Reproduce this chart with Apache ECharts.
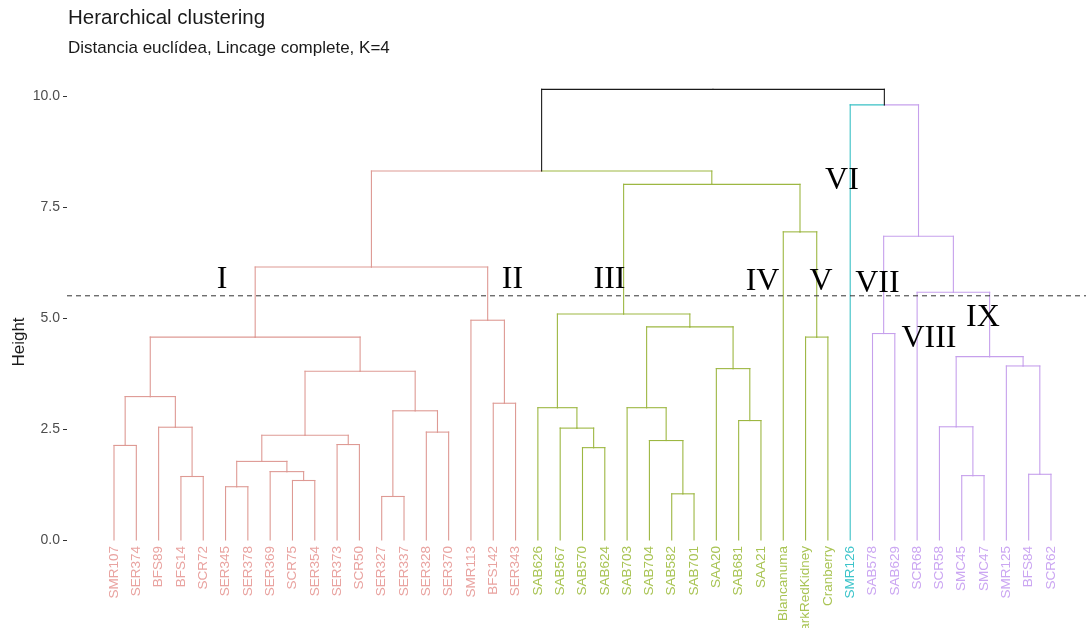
<!DOCTYPE html>
<html>
<head>
<meta charset="utf-8">
<script src="https://cdn.jsdelivr.net/npm/echarts@6/dist/echarts.min.js"></script>
<style>
  html, body { margin: 0; padding: 0; background: #fff; }
  #chart { width: 1086px; height: 628px; }
</style>
</head>
<body>
<div id="chart"></div>
<script>
// Leaves of the dendrogram, left to right
const leaves = [
  'SMR107', 'SER374', 'BFS89', 'BFS14', 'SCR72', 'SER345', 'SER378', 'SER369',
  'SCR75', 'SER354', 'SER373', 'SCR50', 'SER327', 'SER337', 'SER328', 'SER370',
  'SMR113', 'BFS142', 'SER343',
  'SAB626', 'SAB567', 'SAB570', 'SAB624', 'SAB703', 'SAB704', 'SAB582', 'SAB701',
  'SAA20', 'SAB681', 'SAA21', 'Blancanuma', 'DarkRedKidney', 'Cranberry',
  'SMR126',
  'SAB578', 'SAB629', 'SCR68', 'SCR58', 'SMC45', 'SMC47', 'SMR125', 'BFS84', 'SCR62'
];

// Cluster (K=4) of each leaf
const leafCluster = [
  0, 0, 0, 0, 0, 0, 0, 0, 0, 0, 0, 0, 0, 0, 0, 0, 0, 0, 0,
  1, 1, 1, 1, 1, 1, 1, 1, 1, 1, 1, 1, 1, 1,
  2,
  3, 3, 3, 3, 3, 3, 3, 3, 3
];

// Merge steps: [left, right, height]; a string is a leaf, a number refers to an earlier merge
const merges = [
  ['SMR107', 'SER374', 2.13],   // 0
  ['BFS14', 'SCR72', 1.43],     // 1
  ['BFS89', 1, 2.54],           // 2
  [0, 2, 3.23],                 // 3
  ['SER345', 'SER378', 1.20],   // 4
  ['SCR75', 'SER354', 1.34],    // 5
  ['SER369', 5, 1.54],          // 6
  [4, 6, 1.77],                 // 7
  ['SER373', 'SCR50', 2.15],    // 8
  [7, 8, 2.36],                 // 9
  ['SER327', 'SER337', 0.98],   // 10
  ['SER328', 'SER370', 2.43],   // 11
  [10, 11, 2.91],               // 12
  [9, 12, 3.80],                // 13
  [3, 13, 4.57],                // 14
  ['BFS142', 'SER343', 3.08],   // 15
  ['SMR113', 15, 4.95],         // 16
  [14, 16, 6.15],               // 17
  ['SAB570', 'SAB624', 2.08],   // 18
  ['SAB567', 18, 2.52],         // 19
  ['SAB626', 19, 2.98],         // 20
  ['SAB582', 'SAB701', 1.04],   // 21
  ['SAB704', 21, 2.24],         // 22
  ['SAB703', 22, 2.98],         // 23
  ['SAB681', 'SAA21', 2.69],    // 24
  ['SAA20', 24, 3.86],          // 25
  [23, 25, 4.80],               // 26
  [20, 26, 5.09],               // 27
  ['DarkRedKidney', 'Cranberry', 4.57], // 28
  ['Blancanuma', 28, 6.94],     // 29
  [27, 29, 8.01],               // 30
  [17, 30, 8.31],               // 31
  ['SAB578', 'SAB629', 4.65],   // 32
  ['SMC45', 'SMC47', 1.45],     // 33
  ['SCR58', 33, 2.55],          // 34
  ['BFS84', 'SCR62', 1.48],     // 35
  ['SMR125', 35, 3.92],         // 36
  [34, 36, 4.13],               // 37
  ['SCR68', 37, 5.58],          // 38
  [32, 38, 6.84],               // 39
  ['SMR126', 39, 9.80],         // 40
  [31, 40, 10.15]               // 41
];

const cutHeight = 5.5;

// Group labels written over the tree: [text, leaf position, height of baseline]
const groupLabels = [
  ['I', 4.84, 5.50], ['II', 17.86, 5.50], ['III', 22.21, 5.50],
  ['IV', 29.07, 5.47], ['V', 31.69, 5.45], ['VI', 32.63, 7.73],
  ['VII', 34.22, 5.41], ['VIII', 36.53, 4.17], ['IX', 38.95, 4.66]
];

const lineColors = ['#DE9A94', '#9DB742', '#38C0C5', '#C6A0EC'];
const labelColors = ['#E9A3A0', '#A9C454', '#3CC4CA', '#CBA6F2'];
const linkBlack = '#1a1a1a';

// Build node positions and the elbow segments of the dendrogram
const nodes = [];
const segments = []; // [x1, y1, x2, y2, cluster]
function resolve(ref) {
  if (typeof ref === 'string') {
    const i = leaves.indexOf(ref);
    return { x: i, h: 0, cl: leafCluster[i] };
  }
  return nodes[ref];
}
merges.forEach(function (m) {
  const a = resolve(m[0]);
  const b = resolve(m[1]);
  const h = m[2];
  const node = { x: (a.x + b.x) / 2, h: h, cl: a.cl === b.cl ? a.cl : -1 };
  [a, b].forEach(function (c) {
    segments.push([node.x, h, c.x, h, c.cl]);
    segments.push([c.x, h, c.x, c.h, c.cl]);
  });
  nodes.push(node);
});

const chart = echarts.init(document.getElementById('chart'), null, { renderer: 'canvas' });

const xMin = -2.107, xMax = 43.57;

chart.setOption({
  animation: false,
  backgroundColor: '#ffffff',
  title: {
    text: 'Herarchical clustering',
    subtext: 'Distancia euclídea, Lincage complete, K=4',
    left: 68, top: 8, padding: 0, itemGap: 11,
    textStyle: { fontFamily: 'Liberation Sans, Arial, sans-serif', fontSize: 20.5, fontWeight: 'normal', color: '#1a1a1a' },
    subtextStyle: { fontFamily: 'Liberation Sans, Arial, sans-serif', fontSize: 17, color: '#1a1a1a' }
  },
  grid: { left: 67, right: 0, top: 96, bottom: 88 },
  xAxis: { type: 'value', min: xMin, max: xMax, show: false },
  yAxis: {
    type: 'value', min: 0, max: 10, interval: 2.5,
    axisLine: { show: false, onZero: false },
    axisTick: { show: true, length: 4, lineStyle: { color: '#333333', width: 1 } },
    axisLabel: {
      margin: 7, fontSize: 14, color: '#4d4d4d', fontFamily: 'Liberation Sans, Arial, sans-serif',
      formatter: function (v) { return v.toFixed(1); }
    },
    splitLine: { show: false }
  },
  graphic: [{
    type: 'text', x: 19, y: 342, rotation: Math.PI / 2,
    style: { text: 'Height', fill: '#1a1a1a', fontSize: 17, fontFamily: 'Liberation Sans, Arial, sans-serif', align: 'center', verticalAlign: 'middle' }
  }],
  series: [
    {
      type: 'custom', clip: false, silent: true,
      data: segments,
      renderItem: function (params, api) {
        const p1 = api.coord([api.value(0), api.value(1)]);
        const p2 = api.coord([api.value(2), api.value(3)]);
        const cl = api.value(4);
        return {
          type: 'line',
          shape: { x1: p1[0], y1: p1[1], x2: p2[0], y2: p2[1] },
          style: { stroke: cl < 0 ? linkBlack : lineColors[cl], lineWidth: 1.1, lineCap: 'square' }
        };
      }
    },
    {
      type: 'custom', clip: false, silent: true,
      data: leaves.map(function (n, i) { return [i, 0, leafCluster[i]]; }),
      renderItem: function (params, api) {
        const p = api.coord([api.value(0), api.value(1)]);
        return {
          type: 'text', x: p[0], y: p[1] + 6, rotation: Math.PI / 2,
          style: {
            text: leaves[params.dataIndex], fill: labelColors[api.value(2)],
            fontSize: 13.5, fontFamily: 'Liberation Sans, Arial, sans-serif',
            align: 'right', verticalAlign: 'middle'
          }
        };
      }
    },
    {
      type: 'custom', clip: false, silent: true,
      data: [[xMin, cutHeight, xMax, cutHeight]],
      renderItem: function (params, api) {
        const p1 = api.coord([api.value(0), api.value(1)]);
        const p2 = api.coord([api.value(2), api.value(3)]);
        return {
          type: 'line',
          shape: { x1: p1[0], y1: p1[1], x2: p2[0], y2: p2[1] },
          style: { stroke: '#333333', lineWidth: 1, lineDash: [5, 4] }
        };
      }
    },
    {
      type: 'custom', clip: false, silent: true,
      data: groupLabels.map(function (g) { return [g[1], g[2]]; }),
      renderItem: function (params, api) {
        const p = api.coord([api.value(0), api.value(1)]);
        return {
          type: 'text', x: p[0], y: p[1],
          style: {
            text: groupLabels[params.dataIndex][0], fill: '#000000',
            fontSize: 32, fontFamily: 'Liberation Serif, Times New Roman, serif',
            align: 'center', verticalAlign: 'bottom'
          }
        };
      }
    }
  ]
});
</script>
</body>
</html>
